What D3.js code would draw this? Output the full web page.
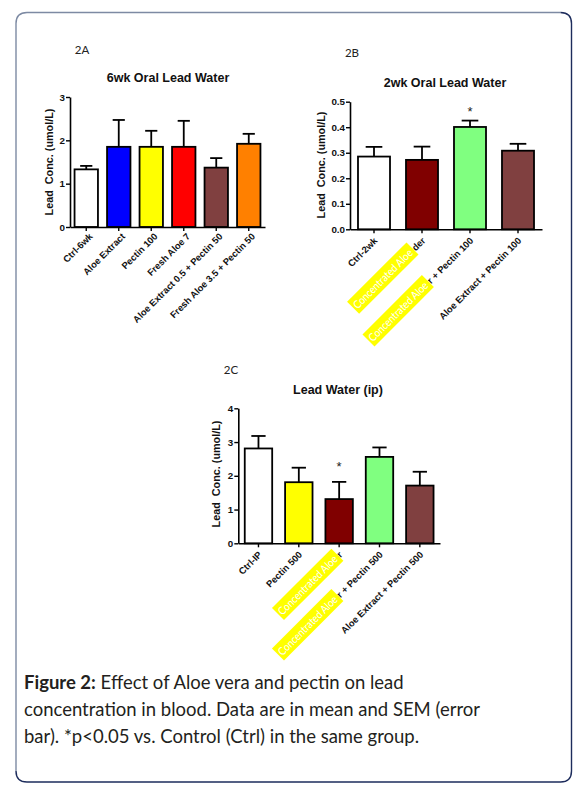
<!DOCTYPE html>
<html><head><meta charset="utf-8">
<script src="https://cdn.jsdelivr.net/npm/d3@7"></script>
<style>body{margin:0;background:#fff}svg{display:block}</style>
</head><body>
<svg id="c" width="584" height="792"></svg>
<script>
// ---------- data ----------
const catsA = ["Ctrl-6wk","Aloe Extract","Pectin 100","Fresh Aloe 7","Aloe Extract 0.5 + Pectin 50","Fresh Aloe 3.5 + Pectin 50"];
const meanA = [1.33,1.85,1.85,1.85,1.37,1.92];
const semA  = [0.08,0.62,0.37,0.60,0.22,0.23];
const sigA  = [false,false,false,false,false,false];
const colorsA = ["#ffffff","#0000ff","#ffff00","#ff0000","#804040","#ff8000"];
const ticksA = [0,1,2,3];

const catsB = ["Ctrl-2wk","Concentrated Aloe Powder","Concentrated Aloe Powder + Pectin 100","Aloe Extract + Pectin 100"];
const meanB = [0.285,0.272,0.401,0.308];
const semB  = [0.038,0.052,0.025,0.027];
const sigB  = [false,false,true,false];
const colorsB = ["#ffffff","#800000","#80ff80","#804040"];
const ticksB = [0,0.1,0.2,0.3,0.4,0.5];

const catsC = ["Ctrl-IP","Pectin 500","Concentrated Aloe Powder","Concentrated Aloe Powder + Pectin 500","Aloe Extract + Pectin 500"];
const meanC = [2.81,1.81,1.31,2.56,1.71];
const semC  = [0.37,0.43,0.51,0.28,0.41];
const sigC  = [false,false,true,false,false];
const colorsC = ["#ffffff","#ffff00","#800000","#80ff80","#804040"];
const ticksC = [0,1,2,3,4];

// highlighted label overlays: index -> visible suffix
const hlB = {1:"der", 2:"r + Pectin 100"};
const hlC = {2:"r", 3:"r + Pectin 500"};
const hlText = "Concentrated Aloe";

const captionBold = "Figure 2:";
const captionLines = [" Effect of Aloe vera and pectin on lead",
  "concentration in blood. Data are in mean and SEM (error",
  "bar). *p<0.05 vs. Control (Ctrl) in the same group."];

// ---------- drawing ----------
const svg = d3.select("#c");
svg.append("rect").attr("width",584).attr("height",792).attr("fill","#fff");

// frame
const L=16,T=12.5,R=571.5,B=782,r=11;
svg.append("path").attr("d",`M${L},${B-r} L${L},${T+r} Q${L},${T} ${L+r},${T} L${R-r},${T}`)
  .attr("fill","none").attr("stroke","#7d8aa3").attr("stroke-width",1.4);
svg.append("path").attr("d",`M${R-r},${T} Q${R},${T} ${R},${T+r} L${R},${B-r} Q${R},${B} ${R-r},${B} L${L+r},${B} Q${L},${B} ${L},${B-r}`)
  .attr("fill","none").attr("stroke","#1d2c5c").attr("stroke-width",1.4);

const FONT = "'Liberation Sans', Arial, sans-serif";
const XFS = 9.4;

function panel(o){
  const x = d3.scaleBand().domain(o.cats).range([o.x0,o.x1]).paddingInner(o.pad).paddingOuter(o.pad/2);
  const y = d3.scaleLinear().domain([0,o.max]).range([o.yb,o.yt]);
  const g = svg.append("g");
  const bw = x.bandwidth();

  g.append("text").attr("x",o.lx).attr("y",o.ly).attr("text-anchor","middle")
    .attr("font-family","Lato, 'Open Sans', sans-serif").attr("font-size",11.5).attr("fill","#222").text(o.letter);
  g.append("text").attr("x",o.tx).attr("y",o.ty).attr("text-anchor","middle")
    .attr("font-family",FONT).attr("font-weight","bold").attr("font-size",12.5).attr("fill","#111").text(o.title);

  g.selectAll("rect.bar").data(o.cats).join("rect").attr("class","bar")
    .attr("x",d=>x(d)).attr("y",(d,i)=>y(o.mean[i]))
    .attr("width",bw).attr("height",(d,i)=>y(0)-y(o.mean[i]))
    .attr("fill",(d,i)=>o.colors[i]).attr("stroke","#000").attr("stroke-width",1.8);

  o.cats.forEach((d,i)=>{
    const cx = x(d)+bw/2, yt = y(o.mean[i]+o.sem[i]);
    g.append("line").attr("x1",cx).attr("x2",cx).attr("y1",y(o.mean[i])).attr("y2",yt)
      .attr("stroke","#000").attr("stroke-width",1.8);
    g.append("line").attr("x1",cx-bw*0.26).attr("x2",cx+bw*0.26).attr("y1",yt).attr("y2",yt)
      .attr("stroke","#000").attr("stroke-width",1.8);
    if(o.sig[i]){
      g.append("text").attr("x",cx).attr("y",yt-o.starOff).attr("text-anchor","middle")
        .attr("font-family",FONT).attr("font-size",13).attr("fill","#222").text("*");
    }
  });

  const ya = g.append("g").attr("transform",`translate(${o.x0},0)`)
    .call(d3.axisLeft(y).tickValues(o.ticks).tickFormat(o.fmt).tickSize(4).tickSizeOuter(0));
  const xa = g.append("g").attr("transform",`translate(0,${o.yb})`)
    .call(d3.axisBottom(x).tickSize(4).tickSizeOuter(0).tickFormat(""));
  [ya,xa].forEach(a=>{
    a.select(".domain").attr("stroke","#000").attr("stroke-width",1.6);
    a.selectAll(".tick line").attr("stroke","#000").attr("stroke-width",1.4);
  });
  ya.selectAll(".tick text").attr("font-family",FONT).attr("font-weight","bold")
    .attr("font-size",9.8).attr("fill","#111").attr("x",-5);

  g.append("text").attr("transform",`translate(${o.ylx},${o.yly}) rotate(-90)`)
    .attr("text-anchor","middle").attr("font-family",FONT).attr("font-weight","bold")
    .attr("font-size",10.8).attr("fill","#111").attr("xml:space","preserve").text(o.ylabel);

  o.cats.forEach((d,i)=>{
    const cx = x(d)+bw/2;
    const lg = g.append("g").attr("transform",`translate(${cx+o.lxOff},${o.yb+o.lyOff}) rotate(-45)`);
    const t = lg.append("text").attr("text-anchor","end").attr("font-family",FONT)
      .attr("font-weight","bold").attr("font-size",XFS).attr("fill","#111");
    if(o.hl && o.hl[i]!==undefined){
      const suffix = o.hl[i];
      const prefix = d.slice(0, d.length - suffix.length);
      const HL = 84;
      t.append("tspan").attr("textLength",HL-4).attr("lengthAdjust","spacingAndGlyphs")
        .attr("fill","#ffff00").text(prefix);
      const s = t.append("tspan").text(suffix);
      const suf = s.node().getComputedTextLength();
      lg.append("rect").attr("x",-suf-HL).attr("y",-13).attr("width",HL).attr("height",17)
        .attr("fill","#ffff00");
      lg.append("text").attr("x",-suf-HL+2).attr("y",0).attr("textLength",HL-5)
        .attr("lengthAdjust","spacingAndGlyphs").attr("font-family","Lato, 'Open Sans', sans-serif")
        .attr("font-size",11).attr("fill","#ffffff").text(hlText);
    } else {
      t.text(d);
    }
  });
}

panel({cats:catsA, mean:meanA, sem:semA, sig:sigA, colors:colorsA, ticks:ticksA, fmt:d3.format("d"),
  x0:70, x1:265, pad:0.28, yt:97, yb:227, max:3,
  letter:"2A", lx:82, ly:54, title:"6wk Oral Lead Water", tx:168, ty:82,
  ylabel:"Lead  Conc. (umol/L)", ylx:53, yly:162, lxOff:7, lyOff:10, starOff:5});

panel({cats:catsB, mean:meanB, sem:semB, sig:sigB, colors:colorsB, ticks:ticksB, fmt:d3.format(".1f"),
  x0:350, x1:542, pad:0.333, yt:101.7, yb:229.3, max:0.5, hl:hlB,
  letter:"2B", lx:352, ly:57, title:"2wk Oral Lead Water", tx:445, ty:86.5,
  ylabel:"Lead  Conc. (umol/L)", ylx:325, yly:165, lxOff:4, lyOff:12, starOff:5});

panel({cats:catsC, mean:meanC, sem:semC, sig:sigC, colors:colorsC, ticks:ticksC, fmt:d3.format("d"),
  x0:238.3, x1:440, pad:0.32, yt:408.3, yb:543.3, max:4, hl:hlC,
  letter:"2C", lx:231, ly:374, title:"Lead Water (ip)", tx:338, ty:393.5,
  ylabel:"Lead  Conc. (umol/L)", ylx:220, yly:474, lxOff:4, lyOff:12, starOff:11});

// caption
const CFS = 18.5;
const cap = svg.append("g").attr("font-family","Lato, 'Open Sans', sans-serif").attr("fill","#231f20");
const t1 = cap.append("text").attr("x",24).attr("y",689).attr("font-size",CFS);
t1.append("tspan").attr("font-weight","bold").text(captionBold);
t1.append("tspan").text(captionLines[0]);
cap.append("text").attr("x",24).attr("y",716).attr("font-size",CFS).text(captionLines[1]);
cap.append("text").attr("x",24).attr("y",742.5).attr("font-size",CFS).text(captionLines[2]);
</script>
</body></html>
